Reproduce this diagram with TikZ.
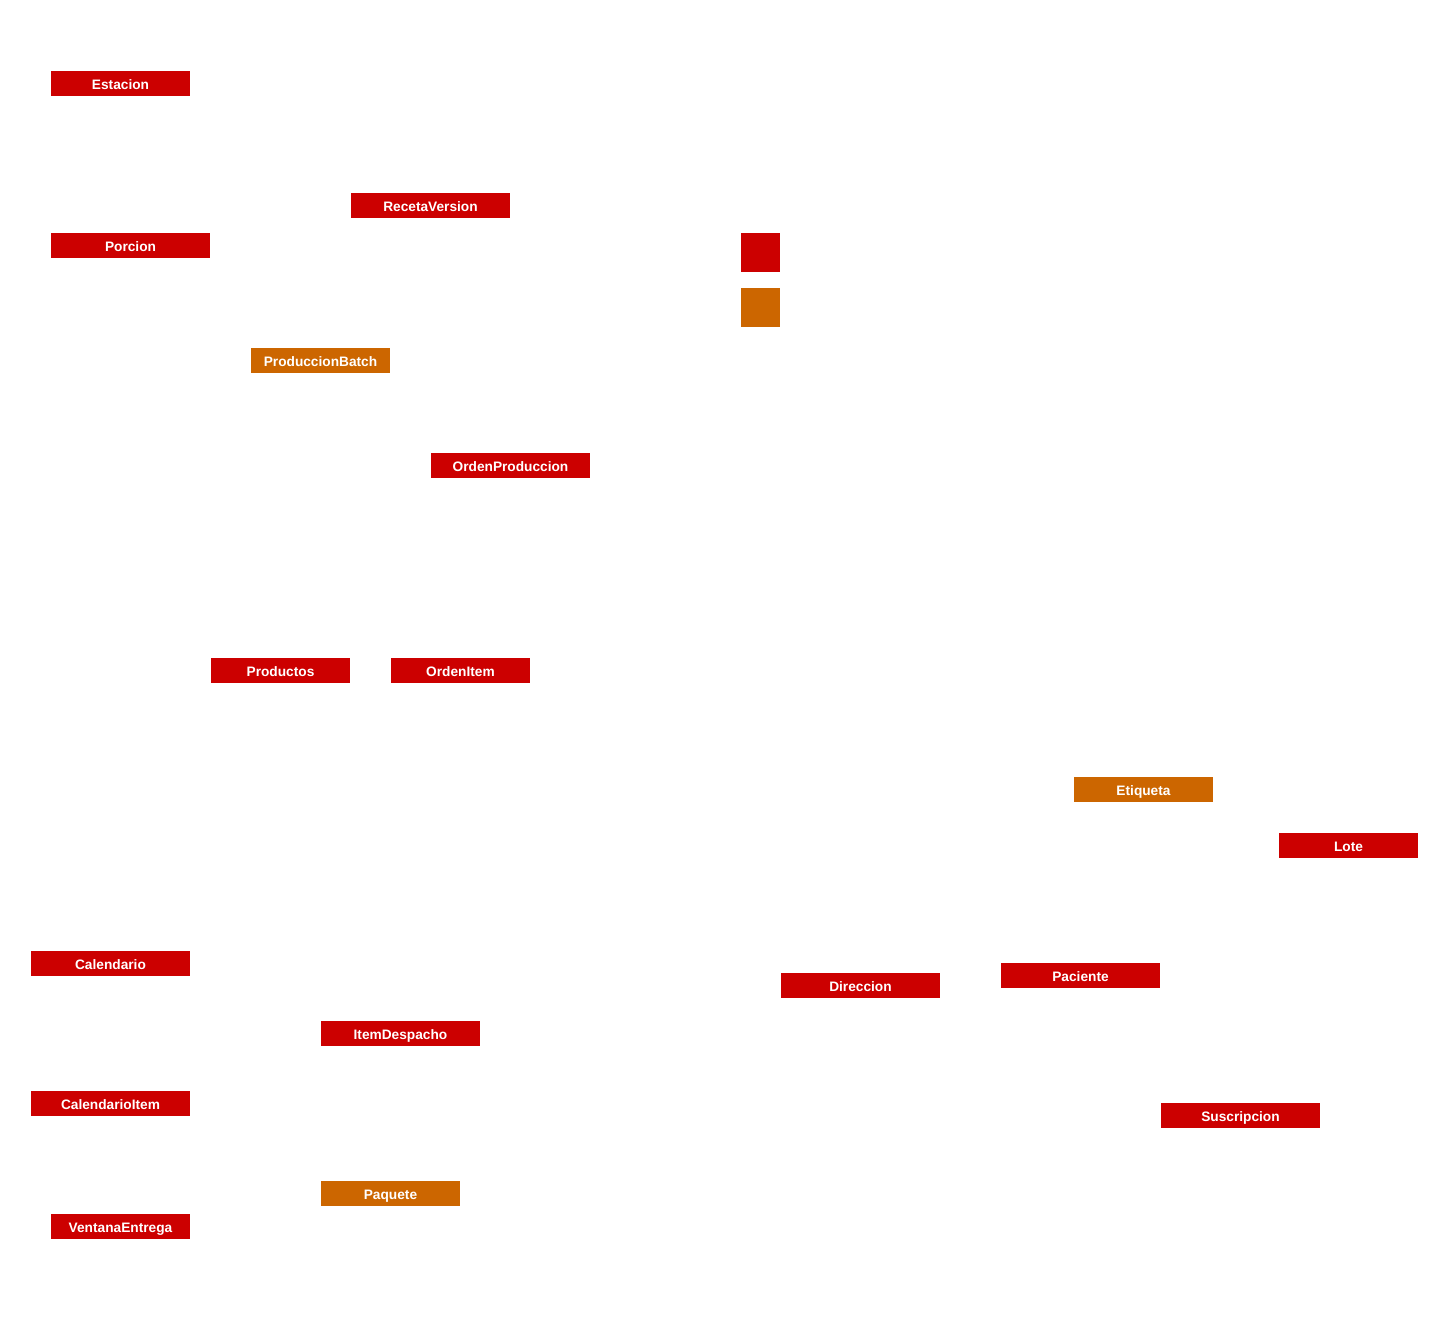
\documentclass[tikz,border=0pt]{standalone}
\usepackage{fontspec}
\setmainfont{Liberation Sans}
\definecolor{rojo}{HTML}{CC0000}
\definecolor{naranja}{HTML}{CC6600}

\begin{document}
\begin{tikzpicture}[
            x = 1pt, y = -1pt, % pixel grid, y downwards
            entidad/.style = {shape=rectangle, fill=rojo, text=white,
                inner sep=0pt, minimum height=25pt, minimum width=159pt,
                text height=12pt, text depth=1pt,
                font=\fontsize{13.7}{15}\selectfont\bfseries},
            corta/.style = {minimum width=139pt},
            nueva/.style = {fill=naranja},
            cuadro/.style = {shape=rectangle, inner sep=0pt, minimum size=39pt}
        ]
        \useasboundingbox (0,0) rectangle (1431,1323);

        \node[entidad,corta]       (est)  at (120.5,83.5)   {Estacion};
        \node[entidad]             (rv)   at (430.5,205.5)  {RecetaVersion};
        \node[entidad]             (por)  at (130.5,245.5)  {Porcion};
        \node[cuadro,fill=rojo]    (sq1)  at (760.5,252.5)  {};
        \node[cuadro,fill=naranja] (sq2)  at (760.5,307.5)  {};
        \node[entidad,corta,nueva] (pb)   at (320.5,360.5)  {ProduccionBatch};
        \node[entidad]             (op)   at (510.5,465.5)  {OrdenProduccion};
        \node[entidad,corta]       (prod) at (280.5,670.5)  {Productos};
        \node[entidad,corta]       (oi)   at (460.5,670.5)  {OrdenItem};
        \node[entidad,corta,nueva] (eti)  at (1143.5,789.5) {Etiqueta};
        \node[entidad,corta]       (lote) at (1348.5,845.5) {Lote};
        \node[entidad]             (cal)  at (110.5,963.5)  {Calendario};
        \node[entidad]             (dir)  at (860.5,985.5)  {Direccion};
        \node[entidad]             (pac)  at (1080.5,975.5) {Paciente};
        \node[entidad]             (id)   at (400.5,1033.5) {ItemDespacho};
        \node[entidad]             (ci)   at (110.5,1103.5) {CalendarioItem};
        \node[entidad]             (sus)  at (1240.5,1115.5) {Suscripcion};
        \node[entidad,corta,nueva] (paq)  at (390.5,1193.5) {Paquete};
        \node[entidad,corta]       (ve)   at (120.5,1226.5) {VentanaEntrega};
    \end{tikzpicture}
\end{document}
